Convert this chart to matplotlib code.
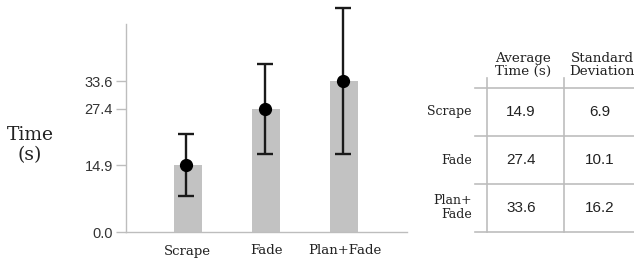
import matplotlib

matplotlib.use("Agg")
import matplotlib.pyplot as plt
import numpy as np

# data
categories = ["Scrape", "Fade", "Plan+Fade"]
mean_time = [14.9, 27.4, 33.6]
std_dev = [6.9, 10.1, 16.2]
ytick_values = [0.0, 14.9, 27.4, 33.6]
table_rows = ["Scrape", "Fade", "Plan+\nFade"]
table_header = ["Average\nTime (s)", "Standard\nDeviation"]

W, H = 634, 260
fig = plt.figure(figsize=(W / 100, H / 100), dpi=100)

SERIF = ["DejaVu Serif"]
SANS = ["Liberation Sans", "DejaVu Sans"]
AXIS_GREY = "#bdbdbd"

# --- bar chart (placed in pixel units) ---
ax_left, ax_right, ax_top, ax_bottom = 126, 407, 24, 232
ax = fig.add_axes([ax_left / W, 1 - ax_bottom / H,
                   (ax_right - ax_left) / W, (ax_bottom - ax_top) / H])

x = np.arange(len(categories))
ax.bar(x, mean_time, width=0.36, color="#c2c2c2", zorder=1)
ax.errorbar(x - 0.02, mean_time, yerr=std_dev, fmt="o", color="black",
            ecolor="#1a1a1a", elinewidth=1.7, capsize=6, capthick=1.7,
            markersize=8.5, clip_on=False, zorder=3)

ax.set_xlim(-0.79, 2.80)
ax.set_ylim(0, 46.3)
ax.set_yticks(ytick_values)
ax.set_yticklabels([f"{v:.1f}" for v in ytick_values], family=SANS,
                   fontsize=10.5, color="#333333")
ax.set_xticks(x)
ax.set_xticklabels(categories, family=SERIF, fontsize=9.5, color="#222222")
ax.tick_params(axis="y", length=7.5, width=1, color=AXIS_GREY, pad=2)
ax.tick_params(axis="x", length=0, pad=9)
for side in ("top", "right"):
    ax.spines[side].set_visible(False)
for side in ("left", "bottom"):
    ax.spines[side].set_color(AXIS_GREY)
    ax.spines[side].set_linewidth(1)

fig.text(30 / W, 1 - 145 / H, "Time\n(s)", family=SERIF, fontsize=13.5,
         ha="center", va="center", color="#222222", linespacing=1.15)

# --- summary table (pixel coordinates on a full-figure overlay) ---
tab = fig.add_axes([0, 0, 1, 1])
tab.set_xlim(0, W)
tab.set_ylim(H, 0)
tab.axis("off")

row_top, row_h = 88, 48
col_lines = [487, 564]
col_centers = [523, 602]
n_rows = len(table_rows)

for i in range(n_rows + 1):
    y = row_top + i * row_h
    tab.plot([475, W], [y, y], color=AXIS_GREY, lw=1.2)
for cx in col_lines:
    tab.plot([cx, cx], [78, row_top + n_rows * row_h], color=AXIS_GREY, lw=1.2)

for cx, head in zip(col_centers, table_header):
    tab.text(cx, 65, head, family=SERIF, fontsize=9.7, ha="center",
             va="center", color="#222222", linespacing=1.0)

for i, (label, m, s) in enumerate(zip(table_rows, mean_time, std_dev)):
    cy = row_top + i * row_h + row_h / 2
    tab.text(472, cy, label, family=SERIF, fontsize=9, ha="right",
             va="center", color="#222222", linespacing=1.1)
    tab.text(col_centers[0] - 2, cy, f"{m:.1f}", family=SANS, fontsize=11,
             ha="center", va="center", color="#222222")
    tab.text(600, cy, f"{s:.1f}", family=SANS, fontsize=11,
             ha="center", va="center", color="#222222")

fig.savefig("out.png", dpi=100)
